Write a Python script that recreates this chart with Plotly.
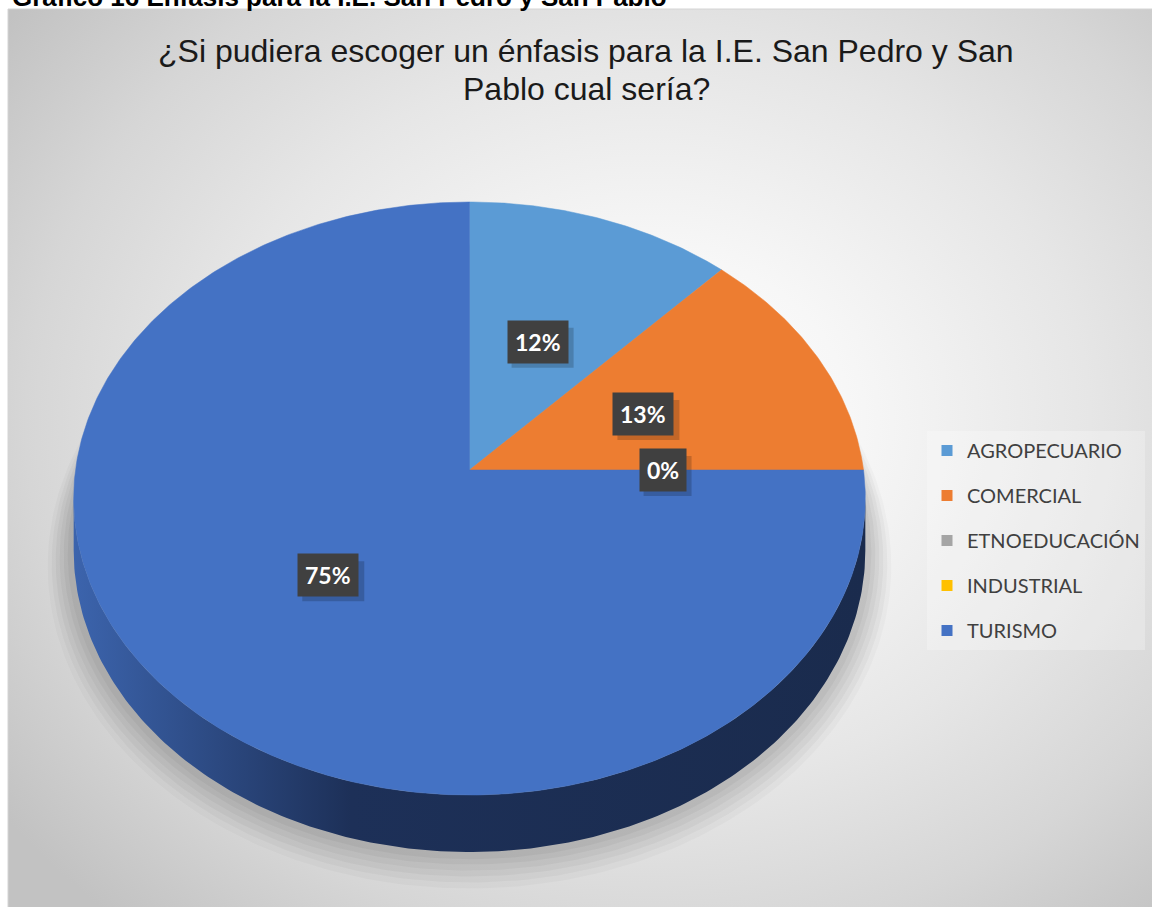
import numpy as np
import plotly.graph_objects as go

# ---------------- data ----------------
categories = ["AGROPECUARIO", "COMERCIAL", "ETNOEDUCACIÓN", "INDUSTRIAL", "TURISMO"]
percent_values = [12, 13, 0, 0, 75]
label_visible = [True, True, True, False, True]
slice_colors = ["#5B9BD5", "#ED7D31", "#A5A5A5", "#FFC000", "#4472C4"]
side_colorscales = [
    [[0, "#3a6aa0"], [1, "#203a5c"]],
    [[0, "#a8561f"], [1, "#7a3e16"]],
    [[0, "#777777"], [1, "#555555"]],
    [[0, "#b38700"], [1, "#806000"]],
    [[0, "#3c64ad"], [0.35, "#1d3058"], [1, "#1a2b4d"]],
]
title_lines = ["¿Si pudiera escoger un énfasis para la I.E. San Pedro y San",
               "Pablo cual sería?"]
caption_text = "Gráfico 16 Énfasis para la I.E. San Pedro y San Pablo"

# ---------------- geometry (pixel-like axes) ----------------
W, H = 1152, 907
CX, CY = 469.5, 470.0
RX, RY = 394.0, 293.8
K = 0.0961          # perspective factor
DEPTH = 51.5        # pie thickness
LABEL_R = 0.49
FRAME_L, FRAME_T = 8, 9


def proj(theta_deg, r=1.0, h=0.0):
    t = np.radians(theta_deg)
    X = r * np.sin(t)
    Y = r * np.cos(t)
    den = 1 + K * Y
    return CX + RX * X / den, CY - RY * Y / den + DEPTH * h / den


fig = go.Figure()

# background with radial gradient (large box so its centre sits right of the middle)
bx = [-150, 1450, 1450, -150, -150]
by = [-250, -250, 1090, 1090, -250]
fig.add_trace(go.Scatter(
    x=bx, y=by, mode="lines", fill="toself",
    line=dict(width=0),
    fillgradient=dict(type="radial",
                      colorscale=[[0, "#ffffff"], [0.25, "#f7f7f7"], [0.55, "#e6e6e6"],
                                  [0.78, "#d6d6d6"], [1, "#c2c2c2"]]),
    showlegend=False, hoverinfo="skip"))

# soft shadow under pie
th = np.linspace(0, 360, 361)
for s, hh, a in [(1.065, 1.22, 0.025), (1.055, 1.18, 0.03), (1.045, 1.14, 0.035),
                 (1.035, 1.10, 0.035), (1.025, 1.06, 0.04), (1.015, 1.03, 0.04)]:
    sx, sy = proj(th, s, hh)
    fig.add_trace(go.Scatter(
        x=sx, y=sy, mode="lines", fill="toself",
        line=dict(width=0), fillcolor=f"rgba(0,0,0,{a})",
        showlegend=False, hoverinfo="skip"))

# slice angles
total = float(sum(percent_values))
starts, ends = [], []
acc = 0.0
for v in percent_values:
    starts.append(acc)
    acc += 360.0 * v / total
    ends.append(acc)

# visible side (front) of the pie
t_r = np.degrees(np.arccos(-K))
t_l = 360 - t_r
for i, v in enumerate(percent_values):
    if v <= 0:
        continue
    a0 = max(starts[i], t_r)
    a1 = min(ends[i], t_l)
    if a1 <= a0:
        continue
    tt = np.linspace(a0, a1, 200)
    x_top, y_top = proj(tt)
    x_bot, y_bot = proj(tt[::-1], 1.0, 1.0)
    fig.add_trace(go.Scatter(
        x=np.concatenate([x_top, x_bot, x_top[:1]]),
        y=np.concatenate([y_top, y_bot, y_top[:1]]),
        mode="lines", fill="toself", line=dict(width=0),
        fillgradient=dict(type="horizontal", colorscale=side_colorscales[i]),
        showlegend=False, hoverinfo="skip"))

# top faces
for i, v in enumerate(percent_values):
    if v <= 0:
        continue
    tt = np.linspace(starts[i], ends[i], max(int(abs(ends[i] - starts[i])), 2) * 2)
    ax, ay = proj(tt)
    fig.add_trace(go.Scatter(
        x=np.concatenate([[CX], ax, [CX]]),
        y=np.concatenate([[CY], ay, [CY]]),
        mode="lines", fill="toself",
        line=dict(width=0.5, color=slice_colors[i]),
        fillcolor=slice_colors[i],
        showlegend=False, hoverinfo="skip"))

# legend entries
for i, c in enumerate(categories):
    fig.add_trace(go.Scatter(
        x=[None], y=[None], mode="markers", name=c,
        legendgroup=c,
        marker=dict(symbol="square", size=11, color=slice_colors[i]),
        showlegend=True, hoverinfo="skip"))

shapes = []
annotations = []

# data labels (dark boxes with a soft drop shadow)
for i, v in enumerate(percent_values):
    if not label_visible[i]:
        continue
    mid = (starts[i] + ends[i]) / 2
    lx, ly = proj(mid, LABEL_R)
    txt = f"{v:.0f}%"
    half_w = (14 * len(txt) + 20) / 2
    shapes.append(dict(
        type="rect", xref="x", yref="y",
        x0=lx - half_w + 5, x1=lx + half_w + 5, y0=ly - 20 + 6, y1=ly + 20 + 6,
        fillcolor="rgba(0,0,0,0.18)", line=dict(width=0), layer="above"))
    annotations.append(dict(
        x=lx, y=ly, xref="x", yref="y", text=f"<b>{txt}</b>",
        showarrow=False, font=dict(family="Lato", size=23, color="#ffffff"),
        bgcolor="#404040", borderpad=7))

# title (two lines)
for line, ty in zip(title_lines, [51, 89]):
    annotations.append(dict(
        x=586, y=ty, xref="x", yref="y", text=line, showarrow=False,
        font=dict(family="Liberation Sans, Arial", size=32, color="#1a1a1a"),
        xanchor="center", yanchor="middle"))

# caption above the frame (cut off at top)
annotations.append(dict(
    x=10, y=14, xref="x", yref="y", text=f"<b>{caption_text}</b>", showarrow=False,
    font=dict(family="Liberation Sans, Arial", size=26, color="#000000"),
    xanchor="left", yanchor="bottom"))

shapes += [
    # white page margins outside the chart frame
    dict(type="rect", xref="x", yref="y", x0=-10, x1=W + 10, y0=-10, y1=FRAME_T,
         fillcolor="#ffffff", line=dict(width=0), layer="above"),
    dict(type="rect", xref="x", yref="y", x0=-10, x1=FRAME_L, y0=-10, y1=H + 10,
         fillcolor="#ffffff", line=dict(width=0), layer="above"),
    # frame border
    dict(type="rect", xref="x", yref="y", x0=FRAME_L, x1=W + 20, y0=FRAME_T, y1=H + 20,
         fillcolor="rgba(0,0,0,0)", line=dict(width=1, color="#d4d4d4"), layer="above"),
]

fig.update_layout(
    width=W, height=H,
    margin=dict(l=0, r=0, t=0, b=0),
    paper_bgcolor="#ffffff", plot_bgcolor="rgba(0,0,0,0)",
    xaxis=dict(range=[0, W], visible=False, fixedrange=True),
    yaxis=dict(range=[H, 0], visible=False, fixedrange=True),
    showlegend=True,
    legend=dict(
        x=927 / W, y=1 - 431 / H, xanchor="left", yanchor="top",
        bgcolor="rgba(255,255,255,0.25)",
        font=dict(family="Lato", size=20, color="#404040"),
        traceorder="grouped", tracegroupgap=16,
        itemwidth=30),
    annotations=annotations,
    shapes=shapes,
)

fig.write_html("out.html", config={"displayModeBar": False},
               post_script="document.body.style.margin='0px';")
